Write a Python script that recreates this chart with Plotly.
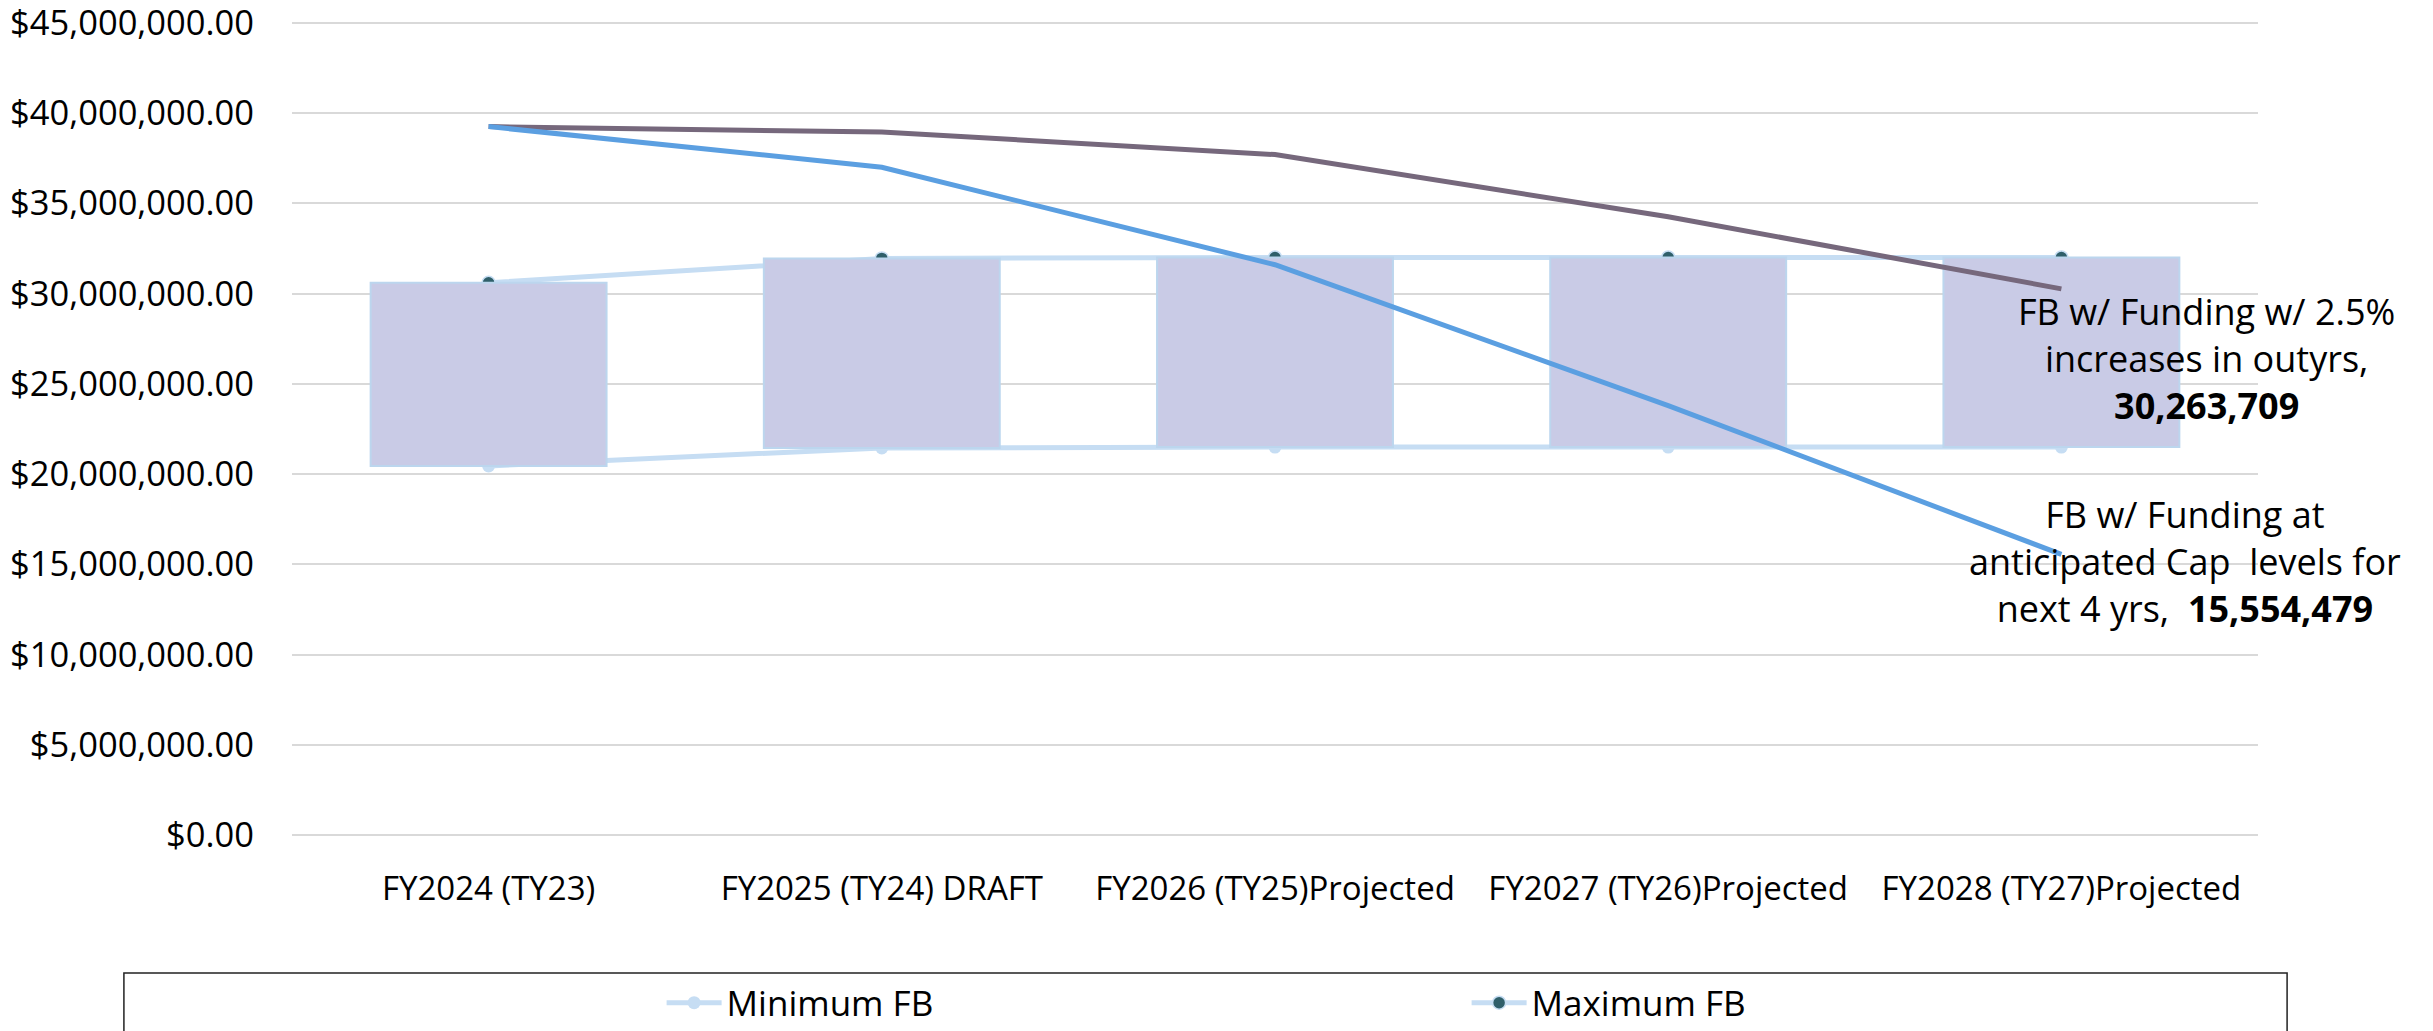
import plotly.graph_objects as go

categories = ["FY2024 (TY23)", "FY2025 (TY24) DRAFT", "FY2026 (TY25)Projected",
              "FY2027 (TY26)Projected", "FY2028 (TY27)Projected"]
minimum_fb = [20450000, 21450000, 21500000, 21500000, 21500000]
maximum_fb = [30600000, 31950000, 32000000, 32000000, 32000000]
fb_cap_levels = [39250000, 37000000, 31600000, 23800000, 15554479]
fb_2_5_pct = [39250000, 38950000, 37700000, 34260000, 30263709]
y_ticks = [0, 5e6, 10e6, 15e6, 20e6, 25e6, 30e6, 35e6, 40e6, 45e6]

FONT = "Segoe UI, Open Sans, Noto Sans, sans-serif"
LIGHT_BLUE = "#C6DDF3"

fig = go.Figure()

# Min / Max lines (bottom layer)
fig.add_trace(go.Scatter(x=categories, y=minimum_fb, name="Minimum FB", mode="lines+markers",
                         line=dict(color=LIGHT_BLUE, width=5),
                         marker=dict(color=LIGHT_BLUE, size=13, line=dict(width=0)),
                         yaxis="y", hoverinfo="skip"))
fig.add_trace(go.Scatter(x=categories, y=maximum_fb, name="Maximum FB", mode="lines+markers",
                         line=dict(color=LIGHT_BLUE, width=5),
                         marker=dict(color="#2F5F6A", size=13, line=dict(color=LIGHT_BLUE, width=1.5)),
                         yaxis="y", hoverinfo="skip"))

# Floating boxes (min -> max)
fig.add_trace(go.Bar(x=categories, y=[mx - mn for mx, mn in zip(maximum_fb, minimum_fb)],
                     base=minimum_fb, width=0.6, showlegend=False,
                     marker=dict(color="#C9CBE6", line=dict(color="#BCD6EE", width=2)),
                     yaxis="y2", hoverinfo="skip"))

# Funding scenario lines (top layer)
fig.add_trace(go.Scatter(x=categories, y=fb_2_5_pct, mode="lines", showlegend=False,
                         line=dict(color="#76687C", width=5), yaxis="y2"))
fig.add_trace(go.Scatter(x=categories, y=fb_cap_levels, mode="lines", showlegend=False,
                         line=dict(color="#5B9FE1", width=5), yaxis="y2"))

yrange = [-0.1e6, 45.1e6]
fig.update_layout(
    width=2433, height=1031,
    margin=dict(l=292, r=175, t=21, b=194),
    paper_bgcolor="white", plot_bgcolor="white",
    font=dict(family=FONT, size=34, color="#000000"),
    barmode="overlay",
    xaxis=dict(type="category", range=[-0.5, 4.5], showgrid=False, zeroline=False,
               showline=False, ticks="", tickfont=dict(size=33), ticklabelstandoff=29,
               automargin=False),
    yaxis=dict(range=yrange, tickvals=y_ticks, tickformat="$,.2f", showgrid=True,
               gridcolor="#D9D9D9", gridwidth=2, zeroline=False, showline=False,
               tickfont=dict(size=34.5), ticklabelstandoff=37, automargin=False,
               ticklabeloverflow="allow"),
    yaxis2=dict(range=yrange, overlaying="y", showgrid=False, zeroline=False,
                showticklabels=False, showline=False, automargin=False),
    legend=dict(orientation="h", x=0.188, xref="paper", y=0.0272, yref="container",
                xanchor="left", yanchor="middle", itemwidth=55,
                font=dict(size=35), entrywidth=735, bgcolor="rgba(0,0,0,0)"),
    shapes=[dict(type="rect", xref="paper", yref="paper", x0=-0.0855, x1=1.0148,
                 y0=-0.26, y1=-0.1667, line=dict(color="#222222", width=1.5),
                 fillcolor="rgba(0,0,0,0)", layer="below")],
    annotations=[
        dict(xref="paper", yref="paper", x=0.9736, y=0.587, xanchor="center", yanchor="middle",
             text="FB w/ Funding w/ 2.5%<br>increases in outyrs,<br><b>30,263,709</b>",
             showarrow=False, align="center", font=dict(size=36)),
        dict(xref="paper", yref="paper", x=0.9629, y=0.338, xanchor="center", yanchor="middle",
             text="FB w/ Funding at<br>anticipated Cap \u00a0levels for<br>next 4 yrs, \u00a0<b>15,554,479</b>",
             showarrow=False, align="center", font=dict(size=36)),
    ],
)

fig.write_html("out.html", config={"displayModeBar": False},
               post_script="document.body.style.margin='0';")
